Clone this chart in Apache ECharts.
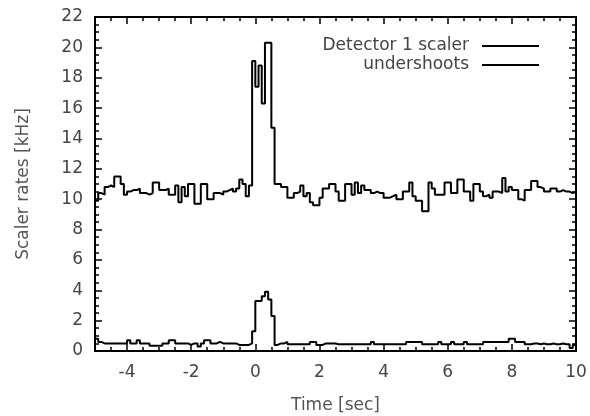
<!DOCTYPE html>
<html><head><meta charset="utf-8">
<script src="https://cdn.jsdelivr.net/npm/echarts@6/dist/echarts.min.js"></script>
<style>html,body{margin:0;padding:0;background:#fff}#c{width:590px;height:416px}</style>
</head><body><div id="c"></div>
<script>
// Histogram bins: start time and width (seconds)
const binStart = -5.0;
const binWidth = 0.1;

const seriesNames = ['Detector 1 scaler', 'undershoots'];

// Detector 1 scaler rate per bin [kHz], bins from -5.0 s to 9.9 s
const detectorRates = [
  9.9, 10.4, 10.3, 10.8, 10.9, 10.8, 11.5, 11.5, 11.0, 10.3,
  10.5, 10.6, 10.6, 10.7, 10.4, 10.4, 10.3, 10.4, 11.1, 11.1,
  10.6, 10.6, 10.7, 10.3, 10.3, 10.9, 9.8, 10.8, 10.2, 11.0,
  11.0, 9.7, 9.7, 11.0, 11.0, 10.0, 10.0, 10.4, 10.4, 10.3,
  10.5, 10.6, 10.7, 10.5, 10.7, 11.3, 11.0, 10.2, 10.9, 19.1,
  17.4, 18.8, 16.3, 20.3, 20.3, 14.7, 11.0, 11.0, 10.8, 10.8,
  10.1, 10.1, 10.4, 10.5, 10.9, 10.2, 10.4, 9.8, 9.6, 9.6,
  10.1, 10.7, 10.7, 11.0, 11.0, 10.5, 9.9, 9.9, 11.0, 11.0,
  10.3, 11.1, 10.4, 10.9, 10.6, 10.6, 10.4, 10.5, 10.4, 10.4,
  10.1, 10.1, 10.2, 10.3, 10.0, 10.0, 10.5, 10.5, 11.1, 10.2,
  9.9, 9.9, 9.2, 9.2, 11.1, 10.7, 10.3, 10.3, 10.3, 11.1,
  11.1, 10.4, 10.4, 11.3, 11.3, 10.5, 10.5, 9.9, 11.0, 11.0,
  10.5, 10.2, 10.3, 10.1, 10.5, 10.5, 10.4, 11.4, 10.5, 10.8,
  10.6, 10.6, 10.0, 9.9, 10.6, 10.6, 11.2, 11.2, 10.8, 10.7,
  10.5, 10.5, 10.7, 10.7, 10.5, 10.6, 10.5, 10.5, 10.4, 10.5
];

// Undershoot rate per bin [kHz], same bins
const undershootRates = [
  0.8, 0.6, 0.5, 0.5, 0.5, 0.5, 0.5, 0.5, 0.5, 0.5,
  0.7, 0.5, 0.5, 0.7, 0.5, 0.5, 0.5, 0.35, 0.35, 0.35,
  0.35, 0.5, 0.5, 0.7, 0.7, 0.5, 0.5, 0.5, 0.5, 0.4,
  0.5, 0.5, 0.3, 0.5, 0.7, 0.7, 0.5, 0.5, 0.6, 0.5,
  0.5, 0.5, 0.5, 0.5, 0.4, 0.4, 0.4, 0.4, 0.5, 1.3,
  3.3, 3.3, 3.6, 3.9, 3.4, 2.3, 0.4, 0.5, 0.5, 0.6,
  0.45, 0.45, 0.45, 0.45, 0.45, 0.45, 0.45, 0.6, 0.6, 0.4,
  0.4, 0.5, 0.5, 0.5, 0.5, 0.45, 0.45, 0.45, 0.45, 0.45,
  0.45, 0.45, 0.45, 0.45, 0.45, 0.45, 0.6, 0.45, 0.45, 0.45,
  0.45, 0.45, 0.45, 0.45, 0.45, 0.45, 0.45, 0.6, 0.6, 0.6,
  0.6, 0.6, 0.45, 0.45, 0.45, 0.45, 0.45, 0.6, 0.45, 0.45,
  0.45, 0.6, 0.45, 0.45, 0.45, 0.6, 0.45, 0.45, 0.45, 0.45,
  0.45, 0.6, 0.6, 0.6, 0.6, 0.6, 0.6, 0.6, 0.6, 0.8,
  0.8, 0.6, 0.6, 0.6, 0.45, 0.45, 0.5, 0.5, 0.45, 0.5,
  0.45, 0.45, 0.5, 0.45, 0.45, 0.5, 0.45, 0.45, 0.2, 0.4
];

// Axis ticks
const xMin = -5, xMax = 10;
const xTickValues = [-4, -2, 0, 2, 4, 6, 8, 10];
const xMinorTicks = [-4.5, -3.5, -3, -2.5, -1.5, -1, -0.5, 0.5, 1, 1.5, 2.5, 3, 3.5, 4.5, 5, 5.5, 6.5, 7, 7.5, 8.5, 9, 9.5];
const yMin = 0, yMax = 22, yStep = 2;

function toSteps(vals) {
  const pts = vals.map((v, i) => [+(binStart + i * binWidth).toFixed(2), v]);
  pts.push([+(binStart + vals.length * binWidth).toFixed(2), vals[vals.length - 1]]);
  return pts;
}

const FONT = 'DejaVu Sans';
const labelColor = '#444';
const frame = { color: '#000', width: 2 };

function xAx(pos, major, showLabel) {
  return {
    type: 'value', min: xMin, max: xMax, position: pos,
    axisLine: { show: major, onZero: false, lineStyle: frame },
    axisTick: { show: true, inside: true, length: major ? 7 : 4, customValues: major ? xTickValues : xMinorTicks,
                lineStyle: { color: '#000', width: 1.5 } },
    axisLabel: { show: showLabel, customValues: xTickValues, margin: 13, fontSize: 17, color: labelColor, fontFamily: FONT },
    splitLine: { show: false }
  };
}

const chart = echarts.init(document.getElementById('c'), null, { renderer: 'canvas' });
const xAxes = [xAx('bottom', true, true), xAx('bottom', false, false), xAx('top', true, false), xAx('top', false, false)];
xAxes[0].name = 'Time [sec]';
xAxes[0].nameLocation = 'middle';
xAxes[0].nameGap = 46;
xAxes[0].nameTextStyle = { fontSize: 17, color: '#555', fontFamily: FONT };

function yAx(pos, showLabel) {
  return {
    type: 'value', min: yMin, max: yMax, interval: yStep, position: pos,
    axisLine: { show: true, onZero: false, lineStyle: frame },
    axisTick: { show: true, inside: true, length: 7, lineStyle: { color: '#000', width: 1.5 } },
    minorTick: { show: true, splitNumber: 4, length: 4, lineStyle: { color: '#000', width: 1.5 } },
    axisLabel: { show: showLabel, margin: 12, fontSize: 17, color: labelColor, fontFamily: FONT },
    splitLine: { show: false }, minorSplitLine: { show: false }
  };
}
const yAxes = [yAx('left', true), yAx('right', false)];
yAxes[0].name = 'Scaler rates [kHz]';
yAxes[0].nameLocation = 'middle';
yAxes[0].nameGap = 63;
yAxes[0].nameTextStyle = { fontSize: 17, color: '#555', fontFamily: FONT };

chart.setOption({
  animation: false,
  backgroundColor: '#fff',
  grid: { left: 95, right: 14, top: 17, bottom: 65, containLabel: false, outerBoundsMode: 'none' },
  legend: {
    orient: 'vertical', right: 46, top: 32, align: 'right',
    icon: 'rect', itemWidth: 57, itemHeight: 2, itemGap: 1,
    data: seriesNames,
    textStyle: { fontSize: 17, color: labelColor, fontFamily: FONT, lineHeight: 18, padding: [0, 8, 0, 0] }
  },
  xAxis: xAxes,
  yAxis: yAxes,
  series: [
    { name: seriesNames[0], type: 'line', step: 'end', symbol: 'none', data: toSteps(detectorRates),
      xAxisIndex: 0, yAxisIndex: 0, color: '#000', lineStyle: { color: '#000', width: 2 }, emphasis: { disabled: true } },
    { name: seriesNames[1], type: 'line', step: 'end', symbol: 'none', data: toSteps(undershootRates),
      xAxisIndex: 0, yAxisIndex: 0, color: '#000', lineStyle: { color: '#000', width: 2 }, emphasis: { disabled: true } }
  ]
});
</script></body></html>
